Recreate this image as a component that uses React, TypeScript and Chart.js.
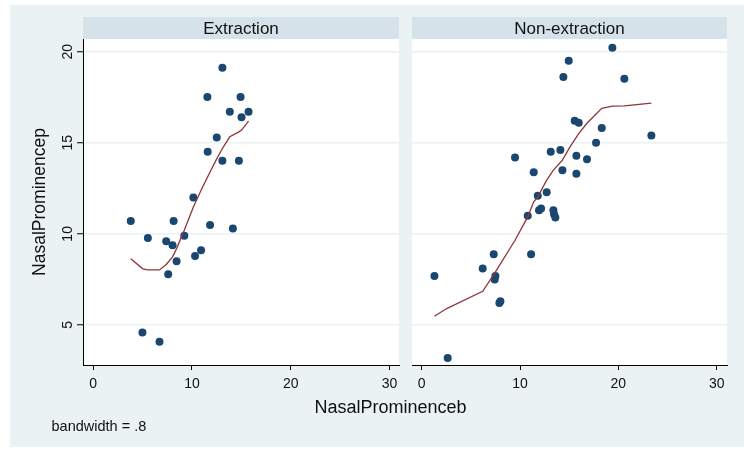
import React, { useEffect, useRef } from 'react';
import { Chart, registerables } from 'chart.js';

Chart.register(...registerables);

// ---------- data ----------
const panelTitles = ['Extraction', 'Non-extraction'];
const xTicks = [0, 10, 20, 30];
const yTicks = [5, 10, 15, 20];
const xAxisTitle = 'NasalProminenceb';
const yAxisTitle = 'NasalProminencep';
const noteText = 'bandwidth = .8';

const extX = [3.8, 5.53, 4.98, 6.71, 7.39, 8.03, 8.14, 7.59, 8.44, 9.22, 10.14, 10.31, 10.92, 11.83, 11.59, 11.56, 12.51, 13.08, 13.08, 13.83, 14.14, 14.75, 14.92, 15.02, 15.73];
const extY = [10.7, 9.78, 4.58, 4.08, 9.6, 9.38, 10.7, 7.78, 8.5, 9.89, 12.0, 8.79, 9.1, 10.49, 14.51, 17.51, 15.29, 19.12, 14.01, 16.7, 10.29, 14.01, 17.51, 16.41, 16.7];
const extFitX = [3.8, 5.02, 5.53, 6.71, 7.39, 8.03, 8.44, 9.22, 10.14, 10.92, 11.83, 12.51, 13.08, 13.83, 14.75, 15.02, 15.73];
const extFitY = [8.64, 8.08, 8.02, 8.02, 8.32, 8.74, 9.19, 10.2, 11.48, 12.4, 13.4, 14.12, 14.69, 15.33, 15.6, 15.7, 16.19];

const nonX = [1.29, 2.64, 6.2, 7.32, 7.49, 7.42, 7.9, 8.0, 9.49, 10.78, 11.12, 11.39, 11.8, 11.93, 12.14, 12.71, 13.12, 13.39, 13.46, 13.59, 14.1, 14.31, 14.41, 14.95, 15.56, 15.73, 15.73, 15.97, 16.81, 17.73, 18.31, 19.39, 20.61, 23.36];
const nonY = [7.69, 3.19, 8.1, 8.88, 7.69, 7.49, 6.21, 6.3, 14.19, 10.99, 8.88, 13.39, 12.09, 11.3, 11.39, 12.29, 14.51, 11.3, 11.08, 10.9, 14.6, 13.5, 18.61, 19.51, 16.21, 14.29, 13.3, 16.1, 14.1, 15.0, 15.81, 20.22, 18.52, 15.4];
const nonFitX = [1.29, 2.54, 6.2, 7.39, 9.49, 10.78, 11.39, 11.8, 12.71, 13.39, 14.31, 15.08, 15.97, 16.78, 18.31, 19.39, 20.61, 23.36];
const nonFitY = [5.48, 5.9, 6.85, 7.82, 9.65, 10.93, 11.76, 12.03, 12.95, 13.5, 14.05, 14.78, 15.51, 16.06, 16.89, 17.01, 17.03, 17.18];

// ---------- style ----------
const FONT = '"Liberation Sans", Arial, Helvetica, sans-serif';
const BG = 'rgb(234,242,243)';
const STRIP = 'rgb(214,226,233)';
const GRID = 'rgb(234,242,243)';
const NAVY = '#1a476f';
const MAROON = '#90353b';
const TEXT = '#111111';
const STRIP_TOP = 17;

const pts = (xs: number[], ys: number[]) => xs.map((x, i) => ({ x, y: ys[i] }));

function panelPlugin(title: string, isLeft: boolean) {
  return {
    id: 'panelDecor',
    beforeDraw(chart: any) {
      const { ctx, chartArea: a } = chart;
      ctx.save();
      ctx.fillStyle = '#ffffff';
      ctx.fillRect(a.left, a.top, a.right - a.left, a.bottom - a.top);
      ctx.fillStyle = STRIP;
      ctx.fillRect(a.left, STRIP_TOP, a.right - a.left, a.top - STRIP_TOP);
      ctx.fillStyle = TEXT;
      ctx.font = `17px ${FONT}`;
      ctx.textAlign = 'center';
      ctx.textBaseline = 'alphabetic';
      ctx.fillText(title, (a.left + a.right) / 2, 33.5);
      ctx.restore();
    },
    afterDraw(chart: any) {
      if (!isLeft) return;
      const { ctx } = chart;
      const ys = chart.scales.y;
      ctx.save();
      ctx.fillStyle = TEXT;
      ctx.textAlign = 'center';
      ctx.textBaseline = 'alphabetic';
      // rotated y tick labels
      ctx.font = `14px ${FONT}`;
      for (const v of yTicks) {
        const py = ys.getPixelForValue(v);
        ctx.save();
        ctx.translate(72, py);
        ctx.rotate(-Math.PI / 2);
        ctx.fillText(String(v), 0, 0);
        ctx.restore();
      }
      // y axis title
      const a = chart.chartArea;
      ctx.font = `17.5px ${FONT}`;
      ctx.save();
      ctx.translate(45, (a.top + a.bottom) / 2);
      ctx.rotate(-Math.PI / 2);
      ctx.fillText(yAxisTitle, 0, 0);
      ctx.restore();
      // shared x axis title
      ctx.font = `18px ${FONT}`;
      ctx.fillText(xAxisTitle, 390.5, 413);
      // note
      ctx.font = `14.5px ${FONT}`;
      ctx.textAlign = 'left';
      ctx.fillText(noteText, 51.5, 430.5);
      ctx.restore();
    },
  };
}

function makeConfig(panel: number): any {
  const isLeft = panel === 0;
  const sx = isLeft ? extX : nonX;
  const sy = isLeft ? extY : nonY;
  const fx = isLeft ? extFitX : nonFitX;
  const fy = isLeft ? extFitY : nonFitY;
  return {
    type: 'scatter',
    data: {
      datasets: [
        {
          data: pts(fx, fy),
          showLine: true,
          borderColor: MAROON,
          borderWidth: 1.3,
          pointRadius: 0,
          tension: 0,
          fill: false,
        },
        {
          data: pts(sx, sy),
          showLine: false,
          pointRadius: 4,
          pointBorderWidth: 0,
          pointBackgroundColor: NAVY,
          backgroundColor: NAVY,
          borderColor: NAVY,
        },
      ],
    },
    options: {
      responsive: false,
      animation: false,
      devicePixelRatio: 1,
      events: [],
      layout: {
        padding: isLeft
          ? { left: 0, right: 345, top: 39, bottom: 0 }
          : { left: 0, right: 17, top: 39, bottom: 0 },
      },
      plugins: {
        legend: { display: false },
        tooltip: { enabled: false },
        title: { display: false },
      },
      scales: {
        x: {
          type: 'linear',
          position: 'bottom',
          min: isLeft ? -1.04 : -0.99,
          max: isLeft ? 30.97 : 31.05,
          afterBuildTicks: (s: any) => {
            s.ticks = xTicks.map((v) => ({ value: v }));
          },
          afterFit: (s: any) => {
            s.height = 85;
          },
          grid: {
            display: true,
            drawOnChartArea: false,
            drawTicks: true,
            tickLength: 5,
            tickColor: '#000000',
            tickWidth: 1,
          },
          border: { display: true, color: '#000000', width: 1 },
          ticks: {
            color: TEXT,
            font: { family: FONT, size: 14 },
            padding: 6,
            maxRotation: 0,
            autoSkip: false,
          },
        },
        y: {
          type: 'linear',
          position: 'left',
          min: 2.8,
          max: 20.7,
          afterBuildTicks: (s: any) => {
            s.ticks = yTicks.map((v) => ({ value: v }));
          },
          afterFit: (s: any) => {
            s.width = isLeft ? 83 : 7;
          },
          grid: {
            display: true,
            drawOnChartArea: true,
            color: GRID,
            lineWidth: 1.5,
            drawTicks: isLeft,
            tickLength: isLeft ? 6 : 0,
            tickColor: '#000000',
            tickWidth: 1,
          },
          border: { display: isLeft, color: '#000000', width: 1 },
          ticks: { display: false },
        },
      },
    },
    plugins: [panelPlugin(panelTitles[panel], isLeft)],
  };
}

export default function App() {
  const leftRef = useRef<HTMLCanvasElement | null>(null);
  const rightRef = useRef<HTMLCanvasElement | null>(null);

  useEffect(() => {
    const charts: Chart[] = [];
    if (leftRef.current) charts.push(new Chart(leftRef.current, makeConfig(0)));
    if (rightRef.current) charts.push(new Chart(rightRef.current, makeConfig(1)));
    return () => {
      charts.forEach((c) => c.destroy());
    };
  }, []);

  return (
    <div
      style={{
        position: 'fixed',
        left: 0,
        top: 0,
        width: 744,
        height: 450,
        background: '#ffffff',
        overflow: 'hidden',
      }}
    >
      <div
        style={{
          position: 'absolute',
          left: 10,
          top: 5,
          width: 734,
          height: 442,
          background: BG,
        }}
      />
      <canvas
        ref={leftRef}
        width={744}
        height={450}
        style={{ position: 'absolute', left: 0, top: 0, width: 744, height: 450 }}
      />
      <canvas
        ref={rightRef}
        width={339}
        height={450}
        style={{ position: 'absolute', left: 405, top: 0, width: 339, height: 450 }}
      />
    </div>
  );
}
